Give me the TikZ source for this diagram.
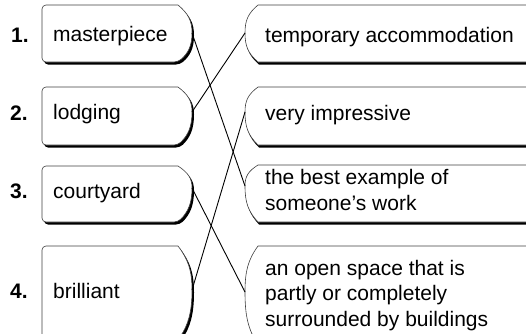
\documentclass[tikz,border=0pt]{standalone}
\usepackage{fontspec}
\setmainfont{Liberation Sans}
\newcommand\myleftbox[3]{% top, tip, bottom
  \fill[black, shift={(2,2.5)}] (178,#1) [rounded corners=4] -- (42,#1) -- (42,#3) -- (178,#3) [sharp corners]
    .. controls (188,{#3-0.3*(#3-#2)}) and (192,{#2+0.45*(#3-#2)}) .. (192,#2)
    .. controls (192,{#2-0.45*(#2-#1)}) and (188,{#1+0.3*(#2-#1)}) .. (178,#1) -- cycle;
  \filldraw[boxline] (178,#1) [rounded corners=4] -- (42,#1) -- (42,#3) -- (178,#3) [sharp corners]
    .. controls (188,{#3-0.3*(#3-#2)}) and (192,{#2+0.45*(#3-#2)}) .. (192,#2)
    .. controls (192,{#2-0.45*(#2-#1)}) and (188,{#1+0.3*(#2-#1)}) .. (178,#1) -- cycle;
}
\newcommand\myrightbox[3]{% top, tip, bottom
  \fill[black, shift={(1,2.5)}] (258,#1) -- (540,#1) -- (540,#3) -- (258,#3)
    .. controls (248,{#3-0.3*(#3-#2)}) and (245,{#2+0.45*(#3-#2)}) .. (245,#2)
    .. controls (245,{#2-0.45*(#2-#1)}) and (248,{#1+0.3*(#2-#1)}) .. (258,#1) -- cycle;
  \filldraw[boxline] (258,#1) -- (540,#1) -- (540,#3) -- (258,#3)
    .. controls (248,{#3-0.3*(#3-#2)}) and (245,{#2+0.45*(#3-#2)}) .. (245,#2)
    .. controls (245,{#2-0.45*(#2-#1)}) and (248,{#1+0.3*(#2-#1)}) .. (258,#1) -- cycle;
}
\begin{document}
\begin{tikzpicture}[x=1pt,y=-1pt,
  boxline/.style={draw=black!75, fill=white, line width=0.6pt},
  word/.style={font=\fontsize{21}{25.5}\selectfont, inner sep=0pt, anchor=base west, align=left},
  num/.style={font=\fontsize{21}{25.5}\selectfont\bfseries, inner sep=0pt, anchor=base west},
  link/.style={draw=black, line width=0.9pt}]
\useasboundingbox (0,0) rectangle (526,333);
\begin{scope}
\clip (0,0) rectangle (526,333);
\myleftbox{5}{33}{62}
\myleftbox{87}{112}{145}
\myleftbox{166}{188}{222}
\myleftbox{246}{290}{340}
\myrightbox{5}{33}{62}
\myrightbox{87}{112}{145}
\myrightbox{165}{186}{222}
\myrightbox{246}{292}{345}
\end{scope}
\coordinate (L1) at (192,33);
\coordinate (L2) at (192,112);
\coordinate (L3) at (192,188);
\coordinate (L4) at (192,290);
\coordinate (R1) at (245,33);
\coordinate (R2) at (245,112);
\coordinate (R3) at (245,186);
\coordinate (R4) at (245,292);
\node[num] (n1) at (11,42) {1.};
\node[num] (n2) at (10,120) {2.};
\node[num] (n3) at (10,198) {3.};
\node[num] (n4) at (10,298) {4.};
\node[word] (w1) at (53,41) {masterpiece};
\node[word] (w2) at (53,119) {lodging};
\node[word] (w3) at (53,198) {courtyard};
\node[word] (w4) at (53,298) {brilliant};
\node[word] (d1) at (265,42) {temporary accommodation};
\node[word] (d2) at (265,120) {very impressive};
\node[word] (d3) at (265,210) {the best example of\\someone’s work};
\node[word] (d4) at (265,326) {an open space that is\\partly or completely\\surrounded by buildings};
\draw[link] (L1) -- (R3);
\draw[link] (L2) -- (R1);
\draw[link] (L3) -- (R4);
\draw[link] (L4) -- (R2);
\end{tikzpicture}
\end{document}
